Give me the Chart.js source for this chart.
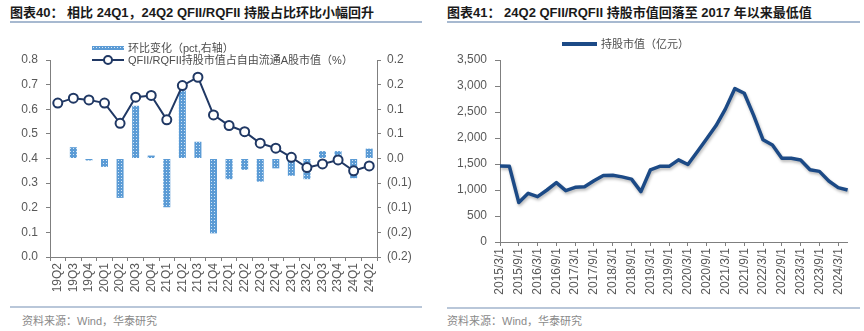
<!DOCTYPE html>
<html>
<head>
  <meta charset="utf-8">
  <title>QFII/RQFII 持股</title>
  <script src="https://cdn.jsdelivr.net/npm/chart.js"></script>
  <style>
    body {
      margin: 0;
      background: #fff;
      font-family: "Liberation Sans", "Noto Sans CJK SC", sans-serif;
    }
    .wrap { position: relative; width: 864px; height: 331px; overflow: hidden; }
    .panel { position: absolute; top: 0; width: 432px; height: 331px; }
    .title {
      position: absolute; top: 5px; font-size: 13px; font-weight: bold;
      color: #1a1a1a; white-space: nowrap; line-height: 16px;
    }
    .rule { position: absolute; height: 2px; background: #a7b9d0; }
    .rule.bottom { background: #b9c7d9; }
    .source { position: absolute; top: 312px; font-size: 11px; color: #8a8a8a; white-space: nowrap; }
    canvas { position: absolute; top: 30px; left: 0; }
    .legend {
      position: absolute; font-size: 11px; color: #4d4d4d; white-space: nowrap;
      line-height: 12px; display: flex; align-items: center;
    }
    .swatch { position: relative; width: 32px; height: 12px; margin-right: 4px; }
    .sw-bar {
      position: absolute; left: 0; top: 4px; width: 32px; height: 4px;
      background: radial-gradient(circle, rgba(255,255,255,0.8) 0.6px, transparent 0.9px) 0 0 / 3px 3px, #5b9bd5;
    }
    .sw-line { position: absolute; left: 0; top: 5px; width: 32px; height: 2px; background: #203864; }
    .sw-dot {
      position: absolute; left: 11px; top: 1px; width: 6px; height: 6px;
      border: 2px solid #203864; border-radius: 50%; background: #fff;
    }
    .sw-thick { position: absolute; left: 0; top: 4px; width: 35px; height: 4px; background: #1c4a86; }
  </style>
</head>
<body>
<div class="wrap">
  <div class="panel" style="left:0">
    <div class="title" style="left:10px">图表40：&nbsp;相比 24Q1，24Q2 QFII/RQFII 持股占比环比小幅回升</div>
    <div class="rule" style="left:10px; top:21px; width:412px"></div>
    <canvas id="ratioChart" width="432" height="272"></canvas>
    <div class="legend" style="left:92px; top:42px">
      <div class="swatch"><div class="sw-bar"></div></div>环比变化（pct,右轴）
    </div>
    <div class="legend" style="left:92px; top:54px">
      <div class="swatch"><div class="sw-line"></div><div class="sw-dot"></div></div>QFII/RQFII持股市值占自由流通A股市值（%）
    </div>
    <div class="rule bottom" style="left:10px; top:306px; width:412px"></div>
    <div class="source" style="left:22px">资料来源：Wind，华泰研究</div>
  </div>

  <div class="panel" style="left:432px">
    <div class="title" style="left:15px">图表41：&nbsp;24Q2 QFII/RQFII 持股市值回落至 2017 年以来最低值</div>
    <div class="rule" style="left:15px; top:21px; width:413px"></div>
    <canvas id="holdingChart" width="432" height="272"></canvas>
    <div class="legend" style="left:130px; top:38px">
      <div class="swatch" style="width:35px"><div class="sw-thick"></div></div>持股市值（亿元）
    </div>
    <div class="rule bottom" style="left:15px; top:307px; width:413px"></div>
    <div class="source" style="left:15px">资料来源：Wind，华泰研究</div>
  </div>
</div>

<script>
  // 季度占比与环比变化
  const quarters = ['19Q2','19Q3','19Q4','20Q1','20Q2','20Q3','20Q4','21Q1','21Q2','21Q3','21Q4',
                    '22Q1','22Q2','22Q3','22Q4','23Q1','23Q2','23Q3','23Q4','24Q1','24Q2'];
  const shareRatio = [0.625, 0.645, 0.638, 0.625, 0.543, 0.649, 0.656, 0.557, 0.696, 0.730, 0.577,
                      0.534, 0.509, 0.462, 0.442, 0.405, 0.363, 0.378, 0.394, 0.350, 0.370];
  const qoqChange = [null, 0.023, -0.004, -0.017, -0.080, 0.107, 0.006, -0.099, 0.138, 0.034, -0.152,
                     -0.042, -0.023, -0.047, -0.020, -0.035, -0.042, 0.015, 0.015, -0.040, 0.020];

  // 持股市值（亿元），季度
  const dates = ['2015/3/1','2015/6/1','2015/9/1','2015/12/1','2016/3/1','2016/6/1','2016/9/1','2016/12/1',
                 '2017/3/1','2017/6/1','2017/9/1','2017/12/1','2018/3/1','2018/6/1','2018/9/1','2018/12/1',
                 '2019/3/1','2019/6/1','2019/9/1','2019/12/1','2020/3/1','2020/6/1','2020/9/1','2020/12/1',
                 '2021/3/1','2021/6/1','2021/9/1','2021/12/1','2022/3/1','2022/6/1','2022/9/1','2022/12/1',
                 '2023/3/1','2023/6/1','2023/9/1','2023/12/1','2024/3/1','2024/6/1'];
  const holdings = [1461, 1455, 760, 936, 872, 1000, 1141, 987, 1051, 1064, 1179, 1280, 1285, 1252, 1210, 968,
                    1385, 1455, 1455, 1580, 1490, 1735, 1985, 2240, 2560, 2950, 2860, 2435, 1965, 1865,
                    1609, 1609, 1577, 1390, 1358, 1173, 1046, 1000];

  Chart.defaults.font.family = '"Liberation Sans", "Noto Sans CJK SC", sans-serif';
  Chart.defaults.color = '#595959';

  const axisGrey = '#7f7f7f';

  // 负值用括号表示，保留一位小数
  function bracketFmt(v) {
    const r = (Math.round(Math.abs(v) * 10 + 1e-9) / 10).toFixed(1);
    return v < -1e-9 ? '(' + r + ')' : r;
  }

  // 柱子的点状填充
  function dotFill(canvas) {
    const tile = document.createElement('canvas');
    tile.width = 3; tile.height = 3;
    const t = tile.getContext('2d');
    t.fillStyle = '#5b9bd5';
    t.fillRect(0, 0, 3, 3);
    t.fillStyle = 'rgba(235,244,252,0.85)';
    t.fillRect(1, 1, 1, 1);
    return canvas.getContext('2d').createPattern(tile, 'repeat');
  }

  const ratioCanvas = document.getElementById('ratioChart');

  new Chart(ratioCanvas, {
    type: 'bar',
    data: {
      labels: quarters,
      datasets: [
        {
          type: 'line',
          data: shareRatio,
          yAxisID: 'y',
          borderColor: '#203864',
          borderWidth: 2,
          pointRadius: 4.5,
          pointBackgroundColor: '#fff',
          pointBorderColor: '#203864',
          pointBorderWidth: 2,
          tension: 0,
          order: 0
        },
        {
          data: qoqChange,
          yAxisID: 'y1',
          backgroundColor: dotFill(ratioCanvas),
          barPercentage: 0.45,
          categoryPercentage: 1,
          order: 1
        }
      ]
    },
    options: {
      responsive: false,
      animation: false,
      layout: { padding: { top: 30, right: 10, bottom: 0, left: 0 } },
      plugins: { legend: { display: false }, tooltip: { enabled: false } },
      scales: {
        x: {
          offset: true,
          grid: { offset: true, drawOnChartArea: false, tickLength: 4, color: axisGrey },
          border: { color: axisGrey },
          ticks: { autoSkip: false, minRotation: 90, maxRotation: 90, padding: 2, font: { size: 12 } },
          afterFit: s => { s.height = 45; }
        },
        y: {
          position: 'left',
          min: 0, max: 0.8,
          grid: { drawOnChartArea: false, tickLength: 4, color: axisGrey },
          border: { color: axisGrey },
          ticks: { stepSize: 0.1, padding: 8, font: { size: 12 }, callback: v => v.toFixed(1) },
          afterFit: s => { s.width = 50; }
        },
        y1: {
          position: 'right',
          min: -0.2, max: 0.2,
          grid: { drawOnChartArea: false, tickLength: 4, color: axisGrey },
          border: { color: axisGrey },
          ticks: { stepSize: 0.05, padding: 6, font: { size: 12 }, callback: bracketFmt },
          afterFit: s => { s.width = 45; }
        }
      }
    }
  });

  // 折线下方的柔和阴影
  const lineShadow = {
    id: 'lineShadow',
    beforeDatasetDraw(chart) {
      const c = chart.ctx;
      c.save();
      c.shadowColor = 'rgba(0,0,0,0.28)';
      c.shadowBlur = 3;
      c.shadowOffsetX = 1;
      c.shadowOffsetY = 2;
    },
    afterDatasetDraw(chart) {
      chart.ctx.restore();
    }
  };

  new Chart(document.getElementById('holdingChart'), {
    type: 'line',
    data: {
      labels: dates,
      datasets: [{
        data: holdings,
        borderColor: '#1c4a86',
        borderWidth: 3.5,
        borderJoinStyle: 'round',
        pointRadius: 0,
        tension: 0
      }]
    },
    options: {
      responsive: false,
      animation: false,
      layout: { padding: { top: 30, right: 15, bottom: 0, left: 0 } },
      plugins: { legend: { display: false }, tooltip: { enabled: false } },
      scales: {
        x: {
          offset: false,
          grid: {
            drawOnChartArea: false, tickLength: 4,
            color: c => (c.index % 2 === 0 ? axisGrey : 'rgba(0,0,0,0)')
          },
          border: { color: axisGrey },
          ticks: {
            autoSkip: false, minRotation: 90, maxRotation: 90, padding: 2, font: { size: 12 },
            callback: (v, i) => (i % 2 === 0 ? dates[i] : '')
          },
          afterFit: s => { s.height = 60; }
        },
        y: {
          min: 0, max: 3500,
          grid: { drawOnChartArea: false, tickLength: 5, color: axisGrey },
          border: { color: axisGrey },
          ticks: { stepSize: 500, padding: 8, font: { size: 12 }, callback: v => v.toLocaleString('en-US') },
          afterFit: s => { s.width = 68; }
        }
      }
    },
    plugins: [lineShadow]
  });
</script>
</body>
</html>
